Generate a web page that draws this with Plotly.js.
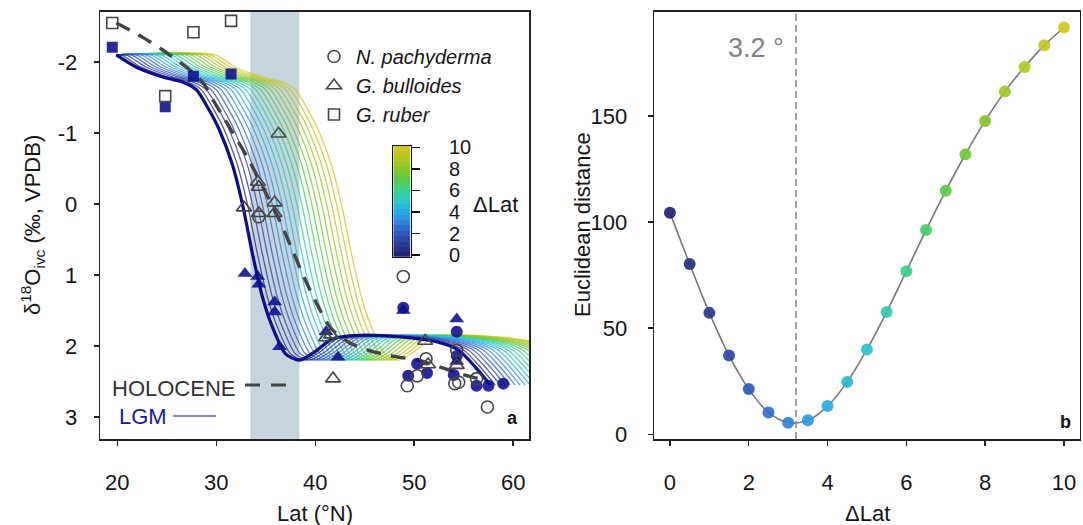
<!DOCTYPE html>
<html><head><meta charset="utf-8">
<script src="https://cdn.plot.ly/plotly-3.0.1.min.js"></script>
<style>body{margin:0;background:#fff}#chart{width:1083px;height:525px}</style>
</head><body><div id="chart"></div>
<script>
// ---------- data ----------
const dLat = [0,0.5,1,1.5,2,2.5,3,3.5,4,4.5,5,5.5,6,6.5,7,7.5,8,8.5,9,9.5,10];
const euclid = [104.4,80.2,57.2,37.1,21.3,10.3,5.5,6.6,13.3,24.7,40.0,57.6,76.8,96.2,114.7,131.9,147.6,161.4,173.0,183.2,191.6];
const bestShift = 3.2;
const bandLat = [33.45, 38.4];

// LGM model curve (ΔLat = 0)
const lgmLat = [19.9,21.9,24.6,26.6,28.0,29.3,30.3,31.6,32.65,33.66,34.67,35.67,37.0,38.4,40.0,41.7,44.4,48.4,52.5,54.5,56.2,57.7];
const lgmD   = [-2.10,-1.93,-1.79,-1.72,-1.61,-1.32,-1.05,-0.57,0.0,0.70,1.31,1.73,2.11,2.20,2.08,1.90,1.85,1.87,1.95,2.06,2.30,2.55];
// Holocene curve
const holoLat = [19.9,21.3,22.8,24.6,26.0,27.6,28.7,29.7,30.7,31.7,33.3,34.7,36.4,37.7,39.0,40.4,41.6,43.4,45.4,48.1,50.4,53.1,55.1,56.5,57.4];
const holoD   = [-2.55,-2.45,-2.33,-2.17,-2.03,-1.86,-1.70,-1.46,-1.23,-1.0,-0.62,-0.24,0.23,0.65,1.07,1.47,1.75,1.95,2.06,2.15,2.2,2.32,2.41,2.46,2.5];

// core-top (Holocene, open) and LGM (filled) samples
const npHoloLat = [34.3,48.9,51.2,50.3,49.3,54.3,54.1,54.5,56.3,57.4];
const npHoloD   = [0.18,1.02,2.18,2.42,2.56,2.06,2.53,2.51,2.46,2.86];
const gbHoloLat = [36.3,34.2,34.3,32.8,34.3,35.9,35.9,41.1,41.6,41.8,51.1,51.4,54.3];
const gbHoloD   = [-0.99,-0.31,-0.24,0.05,0.13,-0.02,0.13,1.88,1.84,2.46,1.93,2.26,2.27];
const grHoloLat = [19.5,24.85,27.7,31.5];
const grHoloD   = [-2.55,-1.52,-2.42,-2.58];

const npLgmLat = [48.9,54.3,54.3,50.3,49.4,51.3,54.0,56.3,57.5,59.0];
const npLgmD   = [1.46,1.80,2.14,2.25,2.42,2.38,2.41,2.56,2.56,2.53];
const gbLgmLat = [32.9,34.2,34.3,35.9,35.9,36.4,41.1,42.3,48.9,54.3,54.3];
const gbLgmD   = [0.98,1.02,1.13,1.38,1.52,2.01,1.80,2.16,1.50,1.62,2.22];
const grLgmLat = [19.5,24.85,27.7,31.5];
const grLgmD   = [-2.21,-1.37,-1.80,-1.83];

const xTicksA = [20,30,40,50,60];
const yTicksA = [-2,-1,0,1,2,3];
const yTickTextA = ['-2','-1','0','1','2','3'];
const xTicksB = [0,2,4,6,8,10];
const yTicksB = [0,50,100,150];
const cbTicks = [0,2,4,6,8,10];

// ---------- styling ----------
const scale = [
 [0,'#22236e'],[0.1,'#2b3a92'],[0.2,'#2e58bd'],[0.3,'#2f84da'],[0.4,'#27abe5'],
 [0.5,'#2bc6c8'],[0.6,'#36d08c'],[0.7,'#5acb45'],[0.8,'#86c72a'],[0.9,'#b2c822'],[1,'#d2c81e']];
function hex(c){return [1,3,5].map(i=>parseInt(c.substr(i,2),16));}
function colorAt(t){
  for(let i=1;i<scale.length;i++){
    if(t<=scale[i][0]+1e-9){
      const a=hex(scale[i-1][1]), b=hex(scale[i][1]);
      const f=(t-scale[i-1][0])/(scale[i][0]-scale[i-1][0]);
      return 'rgb('+a.map((v,k)=>Math.round(v+(b[k]-v)*f)).join(',')+')';
    }
  }
  return scale[scale.length-1][1];
}
const W=1083, H=525;
const px = v => v/W, py = v => 1 - v/H;
const FONT = 'Liberation Sans, Arial, Helvetica, sans-serif';
const ink = '#151515';
const navy = '#0d0d8c';
const openCol = '#454545';
const fillCol = 'rgba(12,12,145,0.88)';

const traces = [];
// shifted LGM curves, largest shift drawn first
for(let i=dLat.length-1;i>=1;i--){
  const d=dLat[i];
  traces.push({x:[lgmLat[0]].concat(lgmLat.map(v=>v+d)), y:[lgmD[0]].concat(lgmD),
    xaxis:'x',yaxis:'y',mode:'lines',line:{color:colorAt(d/10),width:1.3,shape:'spline',smoothing:0.7},
    opacity:0.78,showlegend:false,hoverinfo:'skip'});
}
traces.push({x:lgmLat,y:lgmD,xaxis:'x',yaxis:'y',mode:'lines',line:{color:navy,width:3.2,shape:'spline',smoothing:0.7},showlegend:false,hoverinfo:'skip'});
traces.push({x:holoLat,y:holoD,xaxis:'x',yaxis:'y',mode:'lines',line:{color:'#444',width:3.4,dash:'15px,10px',shape:'spline',smoothing:0.8},showlegend:false,hoverinfo:'skip'});

function pts(x,y,sym,size,col,name,leg,lw){
  return {x:x,y:y,xaxis:'x',yaxis:'y',mode:'markers',name:name,showlegend:leg,
    marker:{symbol:sym,size:size,color:col,line:{width:lw,color:col}}};
}
// LGM filled
traces.push(pts(npLgmLat,npLgmD,'circle',12,fillCol,'LGM N. pachyderma',false,0));
traces.push(pts(gbLgmLat,gbLgmD,'triangle-up',13,fillCol,'LGM G. bulloides',false,0));
traces.push(pts(grLgmLat,grLgmD,'square',11,fillCol,'LGM G. ruber',false,0));
// Holocene open (legend entries)
traces.push(pts(npHoloLat,npHoloD,'circle-open',12,openCol,'<i>N. pachyderma</i>',true,1.6));
traces.push(pts(gbHoloLat,gbHoloD,'triangle-up-open',13,openCol,'<i>G. bulloides</i>',true,1.6));
traces.push(pts(grHoloLat,grHoloD,'square-open',11,openCol,'<i>G. ruber</i>',true,1.6));

// panel b
traces.push({x:dLat,y:euclid,xaxis:'x2',yaxis:'y2',mode:'lines+markers',showlegend:false,name:'distance',
  line:{color:'#777',width:1.6,shape:'spline',smoothing:1},
  marker:{size:12,color:dLat,colorscale:scale,cmin:0,cmax:10,opacity:0.92,line:{width:0}}});

// colour bar as a small heatmap
traces.push({type:'heatmap',name:'scale',x:[0],y:dLat,z:dLat.map(v=>[v]),xaxis:'x3',yaxis:'y3',
  colorscale:scale,zmin:0,zmax:10,showscale:false,hoverinfo:'skip'});

const axBase = {showgrid:false,zeroline:false,showline:true,mirror:true,linecolor:'#222',linewidth:1.6,
  ticks:'outside',ticklen:5,tickwidth:1.4,tickcolor:'#222',tickfont:{family:FONT,size:22,color:ink}};

const layout = {
  width:W,height:H,margin:{l:0,r:0,t:0,b:0},paper_bgcolor:'#fff',plot_bgcolor:'rgba(0,0,0,0)',
  font:{family:FONT,size:22,color:ink},
  showlegend:true,
  legend:{x:px(312),y:py(37),xanchor:'left',yanchor:'top',bgcolor:'rgba(0,0,0,0)',
    font:{family:FONT,size:20,color:ink},tracegroupgap:0,itemwidth:34},
  xaxis:Object.assign({},axBase,{domain:[px(100.3),px(529.3)],range:[18.29,61.63],tickvals:xTicksA,anchor:'y',ticklabelstandoff:18}),
  yaxis:Object.assign({},axBase,{domain:[py(439),py(12)],range:[3.31,-2.705],tickvals:yTicksA,ticktext:yTickTextA,anchor:'x',ticklabelstandoff:12}),
  xaxis2:Object.assign({},axBase,{domain:[px(654.2),px(1079.7)],range:[-0.40,10.40],tickvals:xTicksB,anchor:'y2',ticklabelstandoff:18}),
  yaxis2:Object.assign({},axBase,{domain:[py(439),py(12)],range:[-2.2,198.9],tickvals:yTicksB,anchor:'x2',ticklabelstandoff:16}),
  xaxis3:{domain:[px(393.3),px(410.5)],range:[-0.5,0.5],anchor:'y3',showgrid:false,zeroline:false,
    showline:true,mirror:true,linecolor:'#111',linewidth:1.5,showticklabels:false,ticks:'',fixedrange:true},
  yaxis3:{domain:[py(256.7),py(146)],range:[-0.15,10.13],anchor:'x3',side:'right',showgrid:false,zeroline:false,
    showline:true,mirror:true,linecolor:'#111',linewidth:1.5,ticks:'outside',ticklen:8,tickwidth:1.4,tickcolor:'#111',
    tickvals:cbTicks,tickfont:{family:FONT,size:20,color:ink},ticklabelstandoff:25},
  shapes:[
    {type:'rect',xref:'x',yref:'y domain',x0:bandLat[0],x1:bandLat[1],y0:0,y1:1,fillcolor:'#c6d4de',line:{width:0},layer:'below'},
    {type:'line',xref:'x2',yref:'y2 domain',x0:bestShift,x1:bestShift,y0:0,y1:1,line:{color:'#8a8a8a',width:1.6,dash:'7px,4px'}},
    {type:'line',xref:'paper',yref:'paper',x0:px(245),x1:px(260),y0:py(385),y1:py(385),line:{color:'#444',width:3}},
    {type:'line',xref:'paper',yref:'paper',x0:px(271),x1:px(286),y0:py(385),y1:py(385),line:{color:'#444',width:3}},
    {type:'line',xref:'paper',yref:'paper',x0:px(173),x1:px(216),y0:py(416),y1:py(416),line:{color:'#8686c6',width:2}}
  ],
  annotations:[
    {xref:'paper',yref:'paper',x:px(32),y:py(225),text:'δ<sup>18</sup>O<sub>ivc</sub> (‰, VPDB)',textangle:-90,showarrow:false,xanchor:'center',yanchor:'middle',font:{family:FONT,size:22,color:ink}},
    {xref:'paper',yref:'paper',x:px(314.5),y:py(513),text:'Lat (°N)',showarrow:false,xanchor:'center',yanchor:'middle',font:{family:FONT,size:22,color:ink}},
    {xref:'paper',yref:'paper',x:px(582),y:py(225),text:'Euclidean distance',textangle:-90,showarrow:false,xanchor:'center',yanchor:'middle',font:{family:FONT,size:22,color:ink}},
    {xref:'paper',yref:'paper',x:px(867),y:py(513),text:'ΔLat',showarrow:false,xanchor:'center',yanchor:'middle',font:{family:FONT,size:22,color:ink}},
    {xref:'paper',yref:'paper',x:px(495),y:py(204),text:'ΔLat',showarrow:false,xanchor:'center',yanchor:'middle',font:{family:FONT,size:22,color:ink}},
    {xref:'paper',yref:'paper',x:px(786),y:py(48),text:'3.2 °',showarrow:false,xanchor:'right',yanchor:'middle',font:{family:FONT,size:27,color:'#808080'}},
    {xref:'paper',yref:'paper',x:px(520),y:py(418),text:'<b>a</b>',showarrow:false,xanchor:'right',yanchor:'middle',font:{family:FONT,size:18,color:'#111'}},
    {xref:'paper',yref:'paper',x:px(1073),y:py(422),text:'<b>b</b>',showarrow:false,xanchor:'right',yanchor:'middle',font:{family:FONT,size:18,color:'#111'}},
    {xref:'paper',yref:'paper',x:px(237),y:py(388),text:'HOLOCENE',showarrow:false,xanchor:'right',yanchor:'middle',font:{family:FONT,size:22,color:'#333'}},
    {xref:'paper',yref:'paper',x:px(117),y:py(416),text:'LGM',showarrow:false,xanchor:'left',yanchor:'middle',font:{family:FONT,size:22,color:'#1a1a9a'}}
  ]
};
Plotly.newPlot('chart',traces,layout,{staticPlot:true,displayModeBar:false});
</script></body></html>
